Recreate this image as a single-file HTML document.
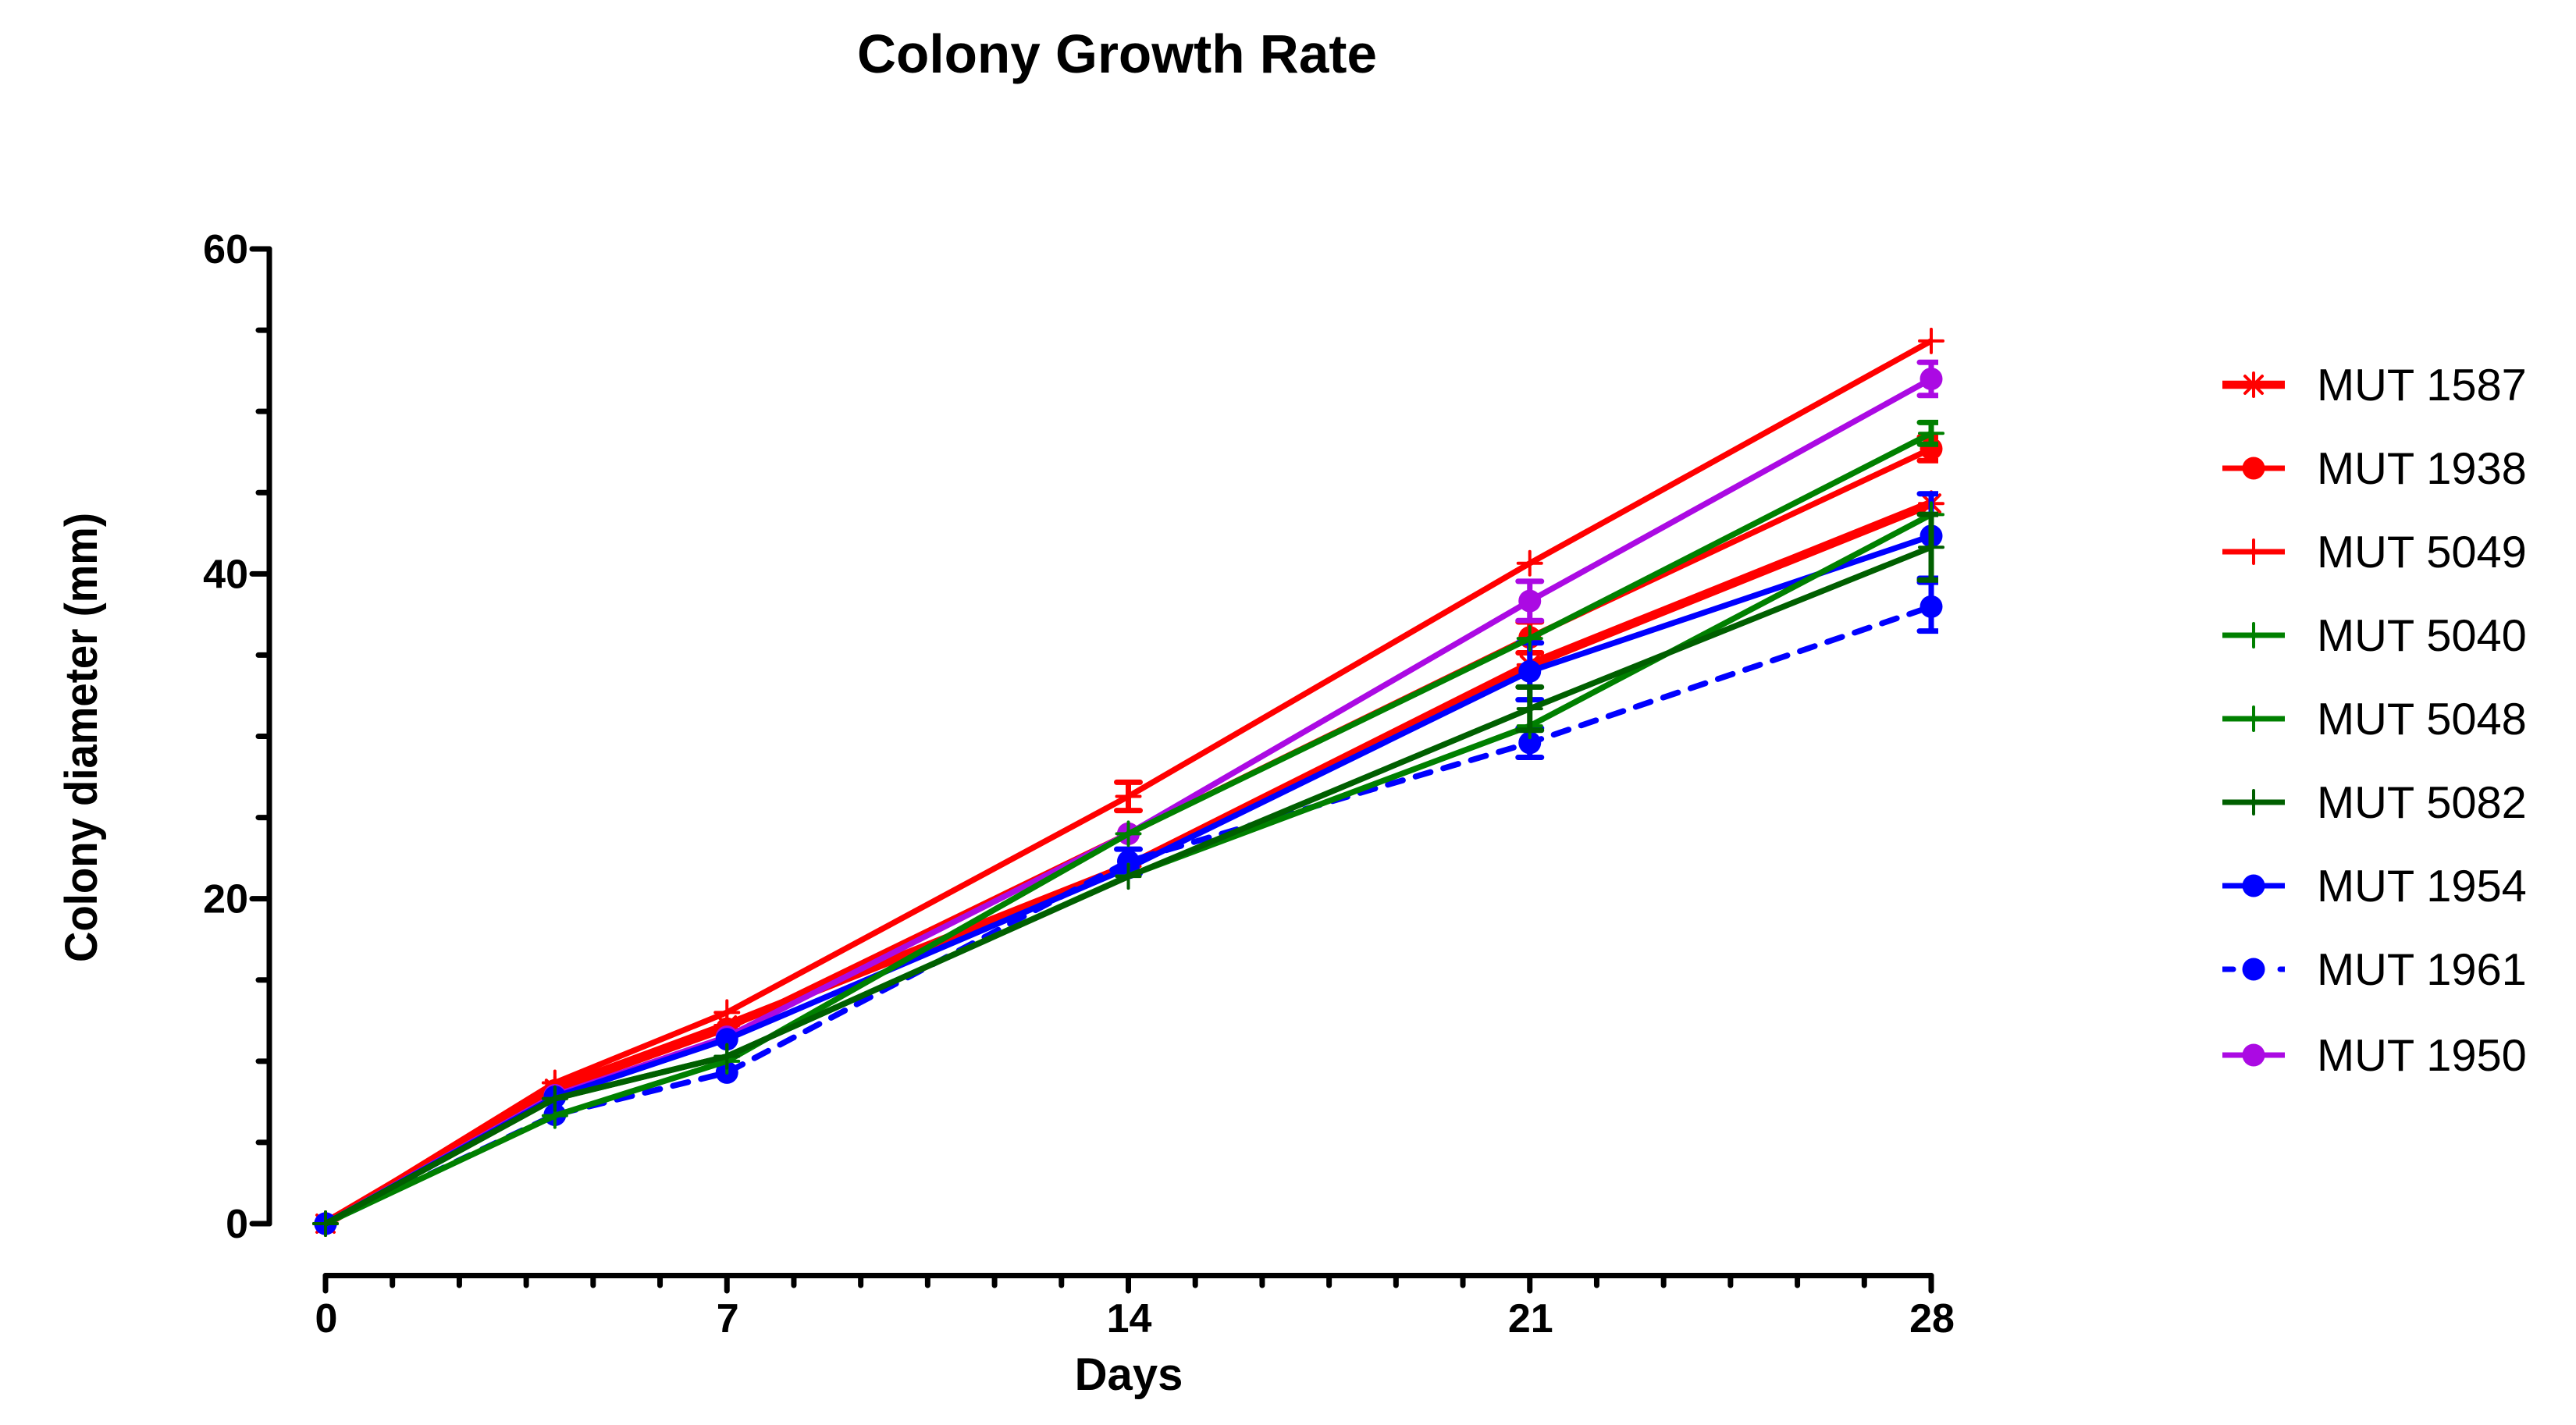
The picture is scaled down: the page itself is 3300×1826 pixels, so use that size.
<!DOCTYPE html>
<html lang="en">
<head>
<meta charset="utf-8">
<title>Colony Growth Rate</title>
<style>
html,body{margin:0;padding:0;background:#fff;}
svg{display:block;}
text{font-family:"Liberation Sans",Arial,sans-serif;fill:#000;}
.bold{font-weight:bold;}
</style>
</head>
<body>
<svg id="chart" xmlns="http://www.w3.org/2000/svg" width="3300" height="1826" viewBox="0 0 3300 1826">
  <defs>
    <clipPath id="cap-clip"><rect x="0" y="0" width="2483" height="1826"></rect></clipPath>
  </defs>
  <rect x="0" y="0" width="3300" height="1826" fill="#ffffff"></rect>
  <text class="bold" x="1431" y="93" font-size="69.3" text-anchor="middle">Colony Growth Rate</text>
  <text class="bold" x="1446" y="1781" font-size="58" text-anchor="middle">Days</text>
  <text class="bold" x="0" y="0" font-size="58" text-anchor="middle" textLength="576" lengthAdjust="spacingAndGlyphs" transform="translate(124 945) rotate(-90)">Colony diameter (mm)</text>
  <g id="axes"></g>
  <g id="series-layer"></g>
  <g id="legend"></g>
</svg>
<script>
// ---- chart data ----
const days = [0, 4, 7, 14, 21, 28];
const xTickLabels = [0, 7, 14, 21, 28];
const yTickLabels = [0, 20, 40, 60];
const xMinorStep = 7 / 6;
const yMinorStep = 5;

const seriesNames = ['MUT 1587', 'MUT 1938', 'MUT 5049', 'MUT 5040', 'MUT 5048', 'MUT 5082', 'MUT 1954', 'MUT 1961', 'MUT 1950'];

const mut1587 = [0, 8.3, 12.2, 22.0, 34.4, 44.33];
const mut1938 = [0, 8.2, 12.0, 24.0, 36.09, 47.7];
const mut5049 = [0, 8.67, 13.0, 26.3, 40.65, 54.34];
const mut5040 = [0, 6.65, 10.0, 24.0, 36.02, 48.65];
const mut5048 = [0, 7.7, 10.3, 21.4, 30.64, 43.65];
const mut5082 = [0, 7.7, 10.3, 21.37, 31.7, 41.64];
const mut1954 = [0, 7.8, 11.35, 21.9, 34.0, 42.33];
const mut1961 = [0, 6.7, 9.3, 22.3, 29.6, 37.98];
const mut1950 = [0, 7.9, 11.5, 24.0, 38.33, 52.0];

const err1587 = [0, 0, 0, 0, 0, 0];
const err1938 = [0, 0, 0, 0, 0.95, 0.73];
const err5049 = [0, 0, 0, 0.87, 0, 0];
const err5040 = [0, 0, 0, 0, 0, 0.67];
const err5048 = [0, 0, 0, 0, 0, 0];
const err5082 = [0, 0, 0, 0, 1.33, 2.02];
const err1954 = [0, 0, 0, 0, 1.75, 2.6];
const err1961 = [0, 0, 0, 0.75, 0.9, 1.5];
const err1950 = [0, 0, 0, 0, 1.21, 1.02];

// ---- look of each series, in the same order as seriesNames ----
const seriesValues = [mut1587, mut1938, mut5049, mut5040, mut5048, mut5082, mut1954, mut1961, mut1950];
const seriesErrors = [err1587, err1938, err5049, err5040, err5048, err5082, err1954, err1961, err1950];
const seriesColors = ['#ff0000', '#ff0000', '#ff0000', '#008000', '#008000', '#005f00', '#0000ff', '#0000ff', '#ab0ae3'];
const seriesMarkers = ['star', 'circle', 'plus', 'plus', 'plus', 'plus', 'circle', 'circle', 'circle'];
const seriesWidths = [11.5, 7.5, 7.5, 7.5, 7.5, 7.5, 7.5, 7.5, 7.5];
const legendWidths = [10.5, 7, 7, 7, 7, 7, 7, 7, 7];
const seriesDashed = [false, false, false, false, false, false, false, true, false];
const drawOrder = [0, 1, 2, 8, 6, 7, 3, 4, 5];

// ---- axis functions ----
const plotLeft = 417, plotRight = 2474, plotTop = 319, plotBottom = 1568;
const xMax = 28, yMax = 60;
const xScale = function (v) { return plotLeft + (plotRight - plotLeft) * v / xMax; };
const yScale = function (v) { return plotBottom - (plotBottom - plotTop) * v / yMax; };

const NS = 'http://www.w3.org/2000/svg';
function mk(parent, tag, attrs, text) {
  const el = document.createElementNS(NS, tag);
  for (const k in attrs) el.setAttribute(k, attrs[k]);
  if (text !== undefined) el.textContent = text;
  parent.appendChild(el);
  return el;
}
function slug(name) { return name.toLowerCase().replace(/\s+/g, '-'); }

// ---- axes ----
const axes = document.getElementById('axes');
const axisStyle = { stroke: '#000', 'stroke-width': 7, 'stroke-linecap': 'round', fill: 'none' };
const yAxisX = 345, xAxisY = 1634.5;

const yLine = mk(axes, 'line', Object.assign({ x1: yAxisX, x2: yAxisX, y1: yScale(yMax), y2: yScale(0) }, axisStyle));



for (let v = 0; v <= yMax; v += yMinorStep) {
  if (yTickLabels.indexOf(v) >= 0) continue;
  const t = mk(axes, 'line', Object.assign({ x1: yAxisX, x2: yAxisX - 14, y1: yScale(v), y2: yScale(v) }, axisStyle));
  
  
}
yTickLabels.forEach(function (v) {
  const t = mk(axes, 'line', Object.assign({ x1: yAxisX, x2: yAxisX - 22, y1: yScale(v), y2: yScale(v) }, axisStyle));
  
  
  const lab = mk(axes, 'text', { x: 318, y: yScale(v) + 18, 'font-size': 52, 'text-anchor': 'end', 'font-weight': 'bold' }, String(v));
  
  
});

const xLine = mk(axes, 'line', Object.assign({ x1: xScale(0), x2: xScale(xMax), y1: xAxisY, y2: xAxisY }, axisStyle));



for (let i = 0; i * xMinorStep <= xMax + 0.001; i++) {
  if (i % 6 === 0) continue;
  const xv = xScale(i * xMinorStep);
  const t = mk(axes, 'line', Object.assign({ x1: xv, x2: xv, y1: xAxisY, y2: 1647 }, axisStyle));
  
  
}
xTickLabels.forEach(function (v) {
  const xv = xScale(v);
  const t = mk(axes, 'line', Object.assign({ x1: xv, x2: xv, y1: xAxisY, y2: 1654 }, axisStyle));
  
  
  const lab = mk(axes, 'text', { x: xv + 1, y: 1707, 'font-size': 52, 'text-anchor': 'middle', 'font-weight': 'bold' }, String(v));
  
  
});

// ---- marker glyphs ----
function drawMarker(parent, kind, cx, cy, color) {
  const g = mk(parent, 'g', {});
  if (kind === 'circle') {
    mk(g, 'circle', { cx: cx, cy: cy, r: 14.5, fill: color });
  } else {
    const sty = { stroke: color, 'stroke-width': 4, 'stroke-linecap': 'round' };
    mk(g, 'line', Object.assign({ x1: cx - 15, x2: cx + 15, y1: cy, y2: cy }, sty));
    mk(g, 'line', Object.assign({ x1: cx, x2: cx, y1: cy - 15, y2: cy + 15 }, sty));
    if (kind === 'star') {
      const d = 11;
      mk(g, 'line', Object.assign({ x1: cx - d, x2: cx + d, y1: cy - d, y2: cy + d }, sty));
      mk(g, 'line', Object.assign({ x1: cx - d, x2: cx + d, y1: cy + d, y2: cy - d }, sty));
    }
  }
  return g;
}

// ---- series ----
const layer = document.getElementById('series-layer');
drawOrder.forEach(function (s) {
  const name = slug(seriesNames[s]);
  const color = seriesColors[s];
  const vals = seriesValues[s];
  const errs = seriesErrors[s];

  const group = mk(layer, 'g', {});
  
  

  // error bars
  days.forEach(function (d, i) {
    if (!errs[i]) return;
    const xv = xScale(d), hi = yScale(vals[i] + errs[i]), lo = yScale(vals[i] - errs[i]);
    const bar = mk(group, 'g', { stroke: color, 'stroke-width': 7, 'clip-path': 'url(#cap-clip)' });
    
    
    mk(bar, 'line', { x1: xv, x2: xv, y1: hi, y2: lo });
    mk(bar, 'line', { x1: xv - 15, x2: xv + 15, y1: hi, y2: hi, 'stroke-linecap': 'round' });
    mk(bar, 'line', { x1: xv - 15, x2: xv + 15, y1: lo, y2: lo, 'stroke-linecap': 'round' });
  });

  // connecting line
  const pts = days.map(function (d, i) { return xScale(d) + ',' + yScale(vals[i]); }).join(' ');
  const line = mk(group, 'polyline', { points: pts, fill: 'none', stroke: color, 'stroke-width': seriesWidths[s], 'stroke-linejoin': 'round' });
  if (seriesDashed[s]) {
    line.setAttribute('stroke-dasharray', '20 17');
    line.setAttribute('stroke-linecap', 'round');
  }
  
  

  // points
  days.forEach(function (d, i) {
    const m = drawMarker(group, seriesMarkers[s], xScale(d), yScale(vals[i]), color);
    
    
  });
});

// ---- legend ----
const legend = document.getElementById('legend');
const legendRows = [493, 600, 707, 814, 921, 1028, 1135, 1242, 1352];
const legendLeft = 2847, legendRight = 2927, legendMid = 2887, legendTextX = 2972;
seriesNames.forEach(function (label, s) {
  const rowY = legendRows[s];
  const color = seriesColors[s];
  const entry = mk(legend, 'g', {});
  
  

  let swatch;
  if (seriesDashed[s]) {
    swatch = mk(entry, 'path', { fill: color, d: 'M' + legendLeft + ' ' + (rowY - 3.5) + 'h14a3.5 3.5 0 0 1 0 7h-14z M' + legendRight + ' ' + (rowY - 3.5) + 'h-6a3.5 3.5 0 0 0 0 7h6z' });
  } else {
    const w = legendWidths[s];
    swatch = mk(entry, 'rect', { x: legendLeft, y: rowY - w / 2, width: legendRight - legendLeft, height: w, fill: color });
  }
  
  

  const marker = drawMarker(entry, seriesMarkers[s], legendMid, rowY, color);
  
  

  const txt = mk(entry, 'text', { x: legendTextX - 4, y: rowY + 20, 'font-size': 57.8 }, label);
  
  
});
</script>
</body>
</html>
